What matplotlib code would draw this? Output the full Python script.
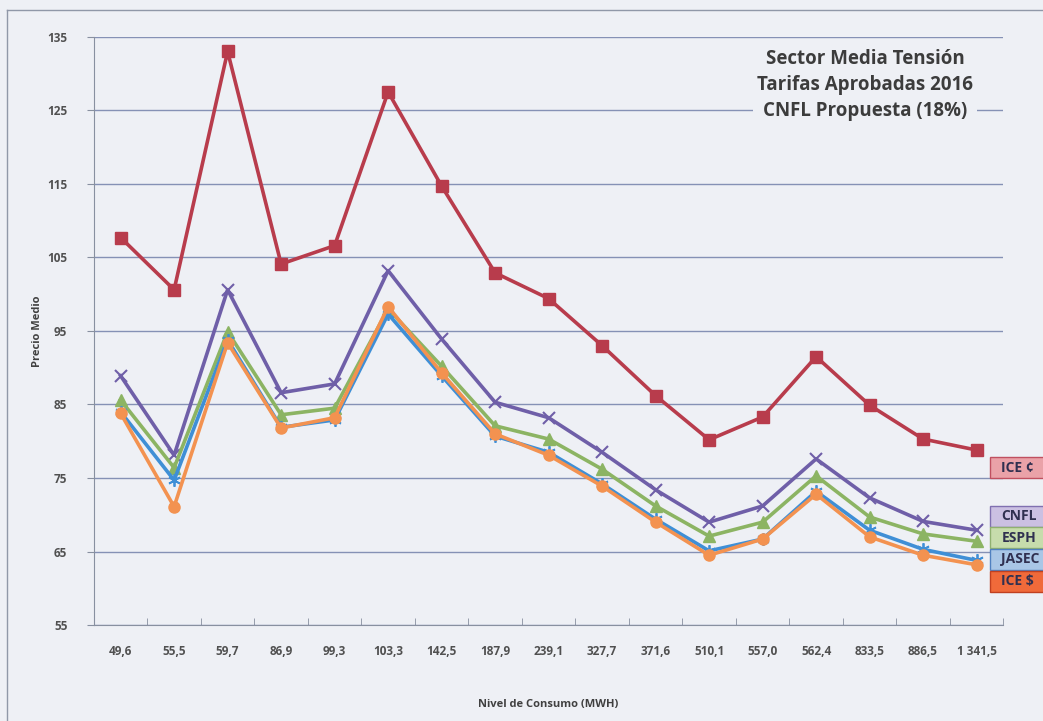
import matplotlib.pyplot as plt
import numpy as np

# niveles de consumo (categorías del eje x)
categorias = ["49,6", "55,5", "59,7", "86,9", "99,3", "103,3", "142,5", "187,9", "239,1",
              "327,7", "371,6", "510,1", "557,0", "562,4", "833,5", "886,5", "1 341,5"]

# precios medios por empresa
ice_colones = [107.7, 100.6, 133.0, 104.1, 106.6, 127.5, 114.7, 102.9, 99.4,
               93.0, 86.2, 80.2, 83.3, 91.5, 84.9, 80.3, 78.8]
cnfl = [88.9, 78.1, 100.6, 86.6, 87.8, 103.2, 93.9, 85.3, 83.2,
        78.5, 73.4, 69.0, 71.2, 77.6, 72.3, 69.1, 67.9]
esph = [85.6, 76.4, 94.9, 83.6, 84.5, 98.0, 90.2, 82.1, 80.3,
        76.2, 71.2, 67.1, 69.0, 75.3, 69.7, 67.4, 66.4]
jasec = [84.0, 74.7, 93.8, 81.9, 82.9, 97.3, 88.9, 80.7, 78.5,
         74.2, 69.4, 65.1, 66.7, 73.2, 67.9, 65.3, 63.8]
ice_dolares = [83.8, 71.1, 93.4, 81.8, 83.2, 98.3, 89.3, 81.0, 78.1,
               73.9, 69.0, 64.5, 66.7, 72.8, 67.0, 64.5, 63.2]

y_ticks = [55, 65, 75, 85, 95, 105, 115, 125, 135]

bg = "#eef0f5"
plt.rcParams['font.family'] = ['Open Sans', 'DejaVu Sans']

fig = plt.figure(figsize=(10.43, 7.21), dpi=100, facecolor=bg)
ax = fig.add_axes([0.090, 0.133, 0.872, 0.816])
ax.set_facecolor(bg)

x = np.arange(len(categorias))

# estilos de cada serie
estilos = [
    ("ICE ¢", ice_colones, dict(color="#b83c4c", marker="s", markersize=8)),
    ("CNFL", cnfl, dict(color="#6f5fa8", marker="x", markersize=9, markeredgewidth=1.5)),
    ("ESPH", esph, dict(color="#8cb463", marker="^", markersize=8)),
    ("JASEC", jasec, dict(color="#3f8fd6", marker=(6, 2, 0), markersize=9, markeredgewidth=1.3)),
    ("ICE $", ice_dolares, dict(color="#f39250", marker="o", markersize=8)),
]
for nombre, datos, st in estilos:
    ax.plot(x, datos, linewidth=2.6, label=nombre, zorder=3, **st)

ax.set_ylim(55, 135)
ax.set_yticks(y_ticks)
ax.set_xlim(-0.5, len(categorias) - 0.5)
ax.set_xticks(x)
ax.set_xticklabels(categorias)
ax.set_xticks(np.arange(-0.5, len(categorias), 1), minor=True)
ax.tick_params(axis='x', which='major', length=0, pad=14, labelsize=8.5, labelcolor="#505050")
ax.tick_params(axis='x', which='minor', length=5, color="#8890a0", direction='in')
ax.tick_params(axis='y', length=5, color="#8890a0", pad=14, labelsize=8.5, labelcolor="#505050")
for lab in ax.get_xticklabels() + ax.get_yticklabels():
    lab.set_fontweight('bold')

ax.grid(axis='y', color="#6272a0", linewidth=1.0, alpha=0.75)
ax.set_axisbelow(True)
for s in ["top", "right"]:
    ax.spines[s].set_visible(False)
ax.spines["left"].set_color("#8890a0")
ax.spines["bottom"].set_color("#8890a0")

ax.set_ylabel("Precio Medio", fontsize=8, fontweight='bold', color="#404040", labelpad=3)
ax.set_xlabel("Nivel de Consumo (MWH)", fontsize=8, fontweight='bold', color="#404040", labelpad=30)

# título dentro del gráfico
ax.text(0.848, 0.918, "Sector Media Tensión\nTarifas Aprobadas 2016\nCNFL Propuesta (18%)",
        transform=ax.transAxes, ha='center', va='center', fontsize=13.5, fontweight='bold',
        color="#3c3c3c", linespacing=1.38,
        bbox=dict(facecolor=bg, edgecolor='none', pad=3), zorder=5)

# etiquetas de la leyenda a la derecha (cortadas por el borde)
etiquetas = [("ICE ¢", 0.351, "#eaa2a8", "#c05060"),
             ("CNFL", 0.284, "#cbc0e2", "#8070b0"),
             ("ESPH", 0.254, "#c7dcac", "#90b070"),
             ("JASEC", 0.224, "#a9c6e6", "#5080c0"),
             ("ICE $", 0.194, "#f06a3a", "#c04020")]
alto = 0.029
for texto, yy, fc, ec in etiquetas:
    fig.add_artist(plt.Rectangle((0.949, yy - alto / 2), 0.08, alto, facecolor=fc,
                                 edgecolor=ec, linewidth=1, transform=fig.transFigure))
    fig.text(0.960, yy, texto, ha='left', va='center', fontsize=10, fontweight='bold',
             color="#303050")

# marco exterior
fig.add_artist(plt.Line2D([0.007, 0.007], [0, 0.986], color="#9098a8", linewidth=1))
fig.add_artist(plt.Line2D([0.007, 1], [0.986, 0.986], color="#9098a8", linewidth=1))

plt.savefig("out.png", dpi=100, facecolor=bg)
